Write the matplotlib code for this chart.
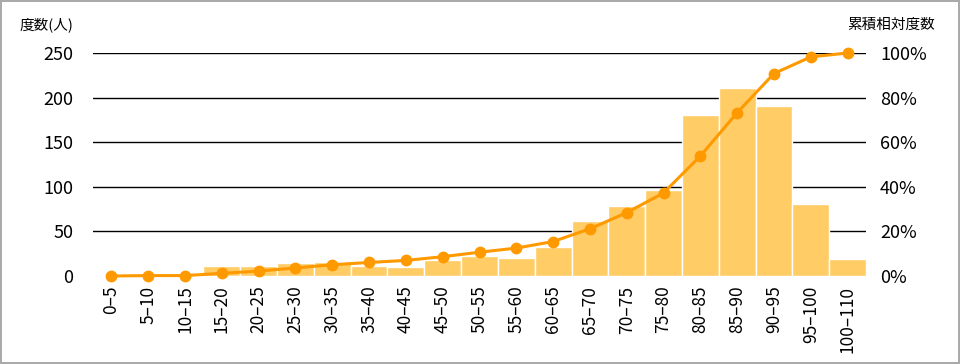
import numpy as np
import matplotlib
matplotlib.use("Agg")
import matplotlib.pyplot as plt
from matplotlib.ticker import FuncFormatter

plt.rcParams['font.family'] = ['Noto Sans CJK JP', 'DejaVu Sans']

# data
bins = ["0–5", "5–10", "10–15", "15–20", "20–25", "25–30", "30–35", "35–40",
        "40–45", "45–50", "50–55", "55–60", "60–65", "65–70", "70–75", "75–80",
        "80–85", "85–90", "90–95", "95–100", "100–110"]
counts = [0, 2, 0, 11, 11, 15, 16, 11, 10, 18, 22, 20, 32, 62, 79, 96,
          180, 211, 191, 81, 19]
left_ticks = [0, 50, 100, 150, 200, 250]
right_ticks = [0, 0.2, 0.4, 0.6, 0.8, 1.0]

cum_rel = np.cumsum(counts) / np.sum(counts)

bar_color = '#FFCC66'
line_color = '#FF9900'

fig = plt.figure(figsize=(9.6, 3.64), dpi=100)
fig.patch.set_edgecolor('#AAAAAA')
fig.patch.set_linewidth(1.5)
ax = fig.add_axes([93/960, 1 - 276/364, (866 - 93)/960, (276 - 53)/364])
x = np.arange(len(bins))

for yv in left_ticks[1:]:
    ax.axhline(yv, color='black', lw=1, zorder=0)
ax.bar(x, counts, width=1.0, color=bar_color, edgecolor='white', linewidth=1, zorder=2)

ax.set_xlim(-0.5, len(bins) - 0.5)
ax.set_ylim(0, 250)
ax.set_yticks(left_ticks)
ax.set_xticks(x)
ax.set_xticklabels(bins, rotation=90, fontsize=12.5)
ax.tick_params(axis='both', length=0)
ax.tick_params(axis='y', labelsize=13, pad=14)
ax.tick_params(axis='x', pad=7)
for s in ax.spines.values():
    s.set_visible(False)

ax2 = ax.twinx()
ax2.plot(x, cum_rel, color=line_color, lw=2.2, marker='o', markersize=7.5, zorder=5,
         clip_on=False)
ax2.set_ylim(0, 1)
ax2.set_yticks(right_ticks)
ax2.yaxis.set_major_formatter(FuncFormatter(lambda v, p: f"{v*100:.0f}%"))
ax2.tick_params(axis='y', length=0, labelsize=13, pad=10)
for s in ax2.spines.values():
    s.set_visible(False)

fig.text(20/960, 1 - 25/364, "度数(人)", fontsize=10.5, va='center', ha='left')
fig.text(935/960, 1 - 25/364, "累積相対度数", fontsize=10.5, va='center', ha='right')

fig.savefig("out.png", dpi=100)
